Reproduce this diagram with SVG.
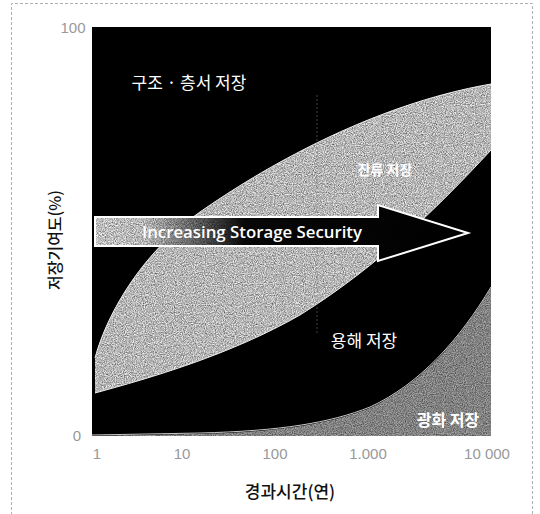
<svg xmlns="http://www.w3.org/2000/svg" width="540" height="514" viewBox="0 0 540 514">
  <defs>
    <style>
      .kr { font-family: "Noto Sans CJK KR", "Noto Sans", sans-serif; }
      .tick { font-family: "Liberation Sans", Arial, sans-serif; font-size: 15px; fill: #999999; }
      .lbl { fill: #ffffff; }
    </style>
    <linearGradient id="arrowGrad" x1="95" y1="0" x2="468" y2="0" gradientUnits="userSpaceOnUse">
      <stop offset="0" stop-color="#fafafa"/>
      <stop offset="0.13" stop-color="#eeeeee"/>
      <stop offset="0.26" stop-color="#808080"/>
      <stop offset="0.4" stop-color="#0a0a0a"/>
      <stop offset="1" stop-color="#000000"/>
    </linearGradient>
    <filter id="grain" x="0" y="0" width="100%" height="100%" color-interpolation-filters="sRGB">
      <feTurbulence type="fractalNoise" baseFrequency="0.9" numOctaves="2" seed="4" result="n"/>
      <feColorMatrix in="n" type="saturate" values="0" result="g"/>
      <feComponentTransfer in="g" result="g2">
        <feFuncR type="linear" slope="1.3" intercept="0.12"/>
        <feFuncG type="linear" slope="1.3" intercept="0.12"/>
        <feFuncB type="linear" slope="1.3" intercept="0.12"/>
        <feFuncA type="linear" slope="0" intercept="1"/>
      </feComponentTransfer>
      <feBlend in="SourceGraphic" in2="g2" mode="multiply" result="b"/>
      <feComposite in="b" in2="SourceGraphic" operator="in"/>
    </filter>
  </defs>

  <rect width="540" height="514" fill="#ffffff"/>
  <!-- dashed outer frame -->
  <path d="M11.5,520 L11.5,3.5 L532.5,3.5 L532.5,520" fill="none" stroke="#b0b0b0" stroke-width="1" stroke-dasharray="3,2"/>

  <g id="plot">
    <rect id="plot-bg" x="92" y="27" width="399" height="409" fill="#000000"/>
    <path id="region-residual" d="M95,358 C108,310 145,250 200,212 C260,170 370,105 491,84 L491,150 C440,205 380,265 300,315 C230,355 150,378 95,393 Z" fill="#ececec" filter="url(#grain)"/>
    <path d="M95,358 C108,310 145,250 200,212 C260,170 370,105 491,84 M491,150 C440,205 380,265 300,315 C230,355 150,378 95,393" fill="none" stroke="#ececec" stroke-width="1"/>
    <line x1="317" y1="95" x2="317" y2="335" stroke="#6c6c6c" stroke-width="1" stroke-dasharray="2,2" opacity="0.6"/>
    <path id="region-mineral" d="M92,436 L200,434 C280,432 330,424 370,408 C420,385 460,340 491,288 L491,436 Z" fill="#a8a8a8" filter="url(#grain)"/>
    <path d="M92,435 L200,433 C280,431 330,423 370,407 C420,384 460,339 491,287" fill="none" stroke="#c8c8c8" stroke-width="1"/>
  </g>

  <g id="arrow">
    <path d="M95,217 L378,217 L378,205 L468,233 L378,261 L378,246 L95,246 Z" fill="url(#arrowGrad)" filter="url(#grain)"/>
    <path d="M95,217 L378,217 L378,205 L468,233 L378,261 L378,246 L95,246 Z" fill="none" stroke="#ffffff" stroke-width="2"/>
    <text x="142" y="238" font-family="'Open Sans', 'Liberation Sans', sans-serif" font-size="16" font-weight="600" fill="#ffffff" textLength="220" lengthAdjust="spacingAndGlyphs">Increasing Storage Security</text>
  </g>

  <g id="labels">
    <text class="kr lbl" x="189" y="89" font-size="17" text-anchor="middle">구조 · 층서 저장</text>
    <text class="kr lbl" x="385" y="175" font-size="14" font-weight="bold" text-anchor="middle">잔류 저장</text>
    <text class="kr lbl" x="364" y="347" font-size="17" text-anchor="middle">용해 저장</text>
    <text class="kr lbl" x="448" y="426" font-size="16" font-weight="bold" text-anchor="middle">광화 저장</text>
  </g>

  <g id="axes">
    <text class="tick" x="73" y="33" text-anchor="middle">100</text>
    <text class="tick" x="77" y="441" text-anchor="middle">0</text>
    <text class="tick" x="97" y="459" text-anchor="middle">1</text>
    <text class="tick" x="182" y="459" text-anchor="middle">10</text>
    <text class="tick" x="275" y="459" text-anchor="middle">100</text>
    <text class="tick" x="368" y="459" text-anchor="middle">1.000</text>
    <text class="tick" x="487" y="459" text-anchor="middle">10 000</text>
    <text class="kr" x="290" y="498" font-size="17" font-weight="500" fill="#111111" text-anchor="middle">경과시간(연)</text>
    <text class="kr" transform="translate(61,240) rotate(-90)" x="0" y="0" font-size="16" font-weight="500" fill="#111111" text-anchor="middle">저장기여도(%)</text>
  </g>
</svg>
